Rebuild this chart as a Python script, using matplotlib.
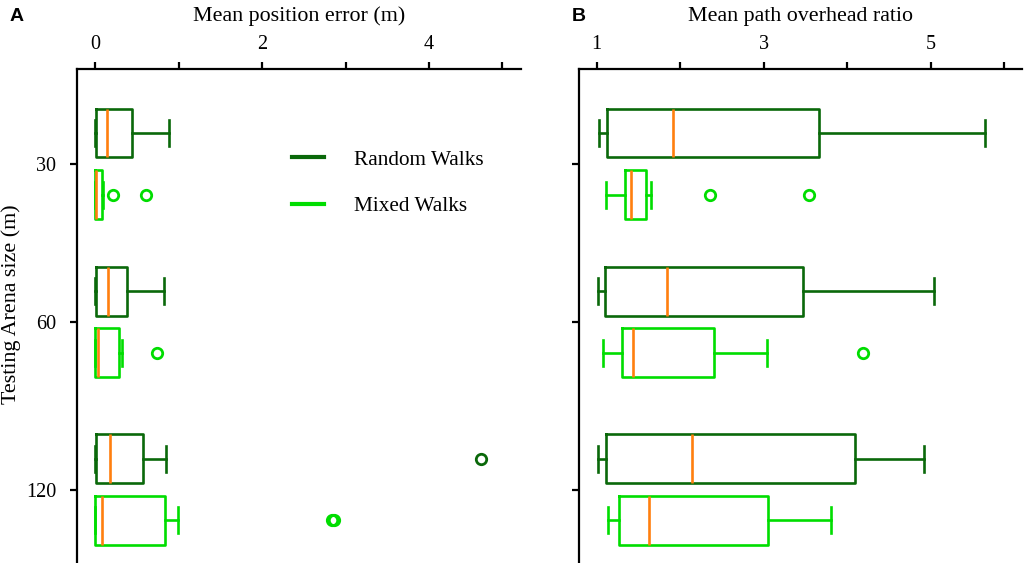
import matplotlib
matplotlib.use('Agg')
import matplotlib.pyplot as plt
from matplotlib.lines import Line2D

# ---------------- data ----------------
sizes = ['30', '60', '120']
series_names = ['Random Walks', 'Mixed Walks']

# Panel A: mean position error (m)
err_random_whislo = [0.00, 0.00, 0.00]
err_random_q1 = [0.01, 0.01, 0.01]
err_random_med = [0.14, 0.155, 0.18]
err_random_q3 = [0.44, 0.38, 0.575]
err_random_whishi = [0.88, 0.83, 0.85]
err_random_fliers = [[], [], [4.62]]

err_mixed_whislo = [0.00, 0.00, 0.00]
err_mixed_q1 = [0.00, 0.00, 0.00]
err_mixed_med = [0.01, 0.03, 0.08]
err_mixed_q3 = [0.08, 0.29, 0.835]
err_mixed_whishi = [0.09, 0.32, 0.99]
err_mixed_fliers = [[0.21, 0.61], [0.74], [2.84, 2.86]]

# Panel B: mean path overhead ratio
ratio_random_whislo = [1.03, 1.02, 1.02]
ratio_random_q1 = [1.12, 1.10, 1.11]
ratio_random_med = [1.91, 1.845, 2.14]
ratio_random_q3 = [3.66, 3.47, 4.09]
ratio_random_whishi = [5.65, 5.04, 4.92]
ratio_random_fliers = [[], [], []]

ratio_mixed_whislo = [1.115, 1.08, 1.13]
ratio_mixed_q1 = [1.34, 1.30, 1.27]
ratio_mixed_med = [1.41, 1.43, 1.62]
ratio_mixed_q3 = [1.59, 2.40, 3.05]
ratio_mixed_whishi = [1.645, 3.04, 3.80]
ratio_mixed_fliers = [[2.35, 3.54], [4.19], []]

# ---------------- style ----------------
plt.rcParams['font.family'] = ['Liberation Serif', 'DejaVu Serif']
DARK = '#0a680a'
LIGHT = '#00dd00'
ORANGE = '#ff7f0e'
LW = 1.9

group_pos = [1.0, 2.0, 3.06]
offset = 0.195
box_w = 0.308


def stats(whislo, q1, med, q3, whishi, fliers):
    return [dict(whislo=a, q1=b, med=c, q3=d, whishi=e, fliers=f)
            for a, b, c, d, e, f in zip(whislo, q1, med, q3, whishi, fliers)]


def draw(ax, st, pos, color):
    ax.bxp(st, positions=pos, widths=box_w, capwidths=0.165, vert=False,
           showfliers=True, manage_ticks=False,
           boxprops=dict(color=color, linewidth=LW),
           whiskerprops=dict(color=color, linewidth=LW),
           capprops=dict(color=color, linewidth=LW),
           medianprops=dict(color=ORANGE, linewidth=LW),
           flierprops=dict(marker='o', markerfacecolor='none',
                           markeredgecolor=color, markersize=7.5,
                           markeredgewidth=2.0, linestyle='none'))


fig = plt.figure(figsize=(10.24, 5.63), dpi=100)
axA = fig.add_axes([77 / 1024, 0.0, 444 / 1024, 494 / 563])
axB = fig.add_axes([579 / 1024, 0.0, 443 / 1024, 494 / 563])

pos_r = [p - offset for p in group_pos]
pos_m = [p + offset for p in group_pos]

draw(axA, stats(err_random_whislo, err_random_q1, err_random_med,
                err_random_q3, err_random_whishi, err_random_fliers), pos_r, DARK)
draw(axA, stats(err_mixed_whislo, err_mixed_q1, err_mixed_med,
                err_mixed_q3, err_mixed_whishi, err_mixed_fliers), pos_m, LIGHT)
draw(axB, stats(ratio_random_whislo, ratio_random_q1, ratio_random_med,
                ratio_random_q3, ratio_random_whishi, ratio_random_fliers), pos_r, DARK)
draw(axB, stats(ratio_mixed_whislo, ratio_mixed_q1, ratio_mixed_med,
                ratio_mixed_q3, ratio_mixed_whishi, ratio_mixed_fliers), pos_m, LIGHT)

axA.set_xlim(-0.216, 5.10)
axB.set_xlim(0.788, 6.09)
for ax in (axA, axB):
    ax.set_ylim(3.525, 0.399)
    ax.spines['right'].set_visible(False)
    ax.spines['bottom'].set_visible(False)
    ax.spines['left'].set_linewidth(1.6)
    ax.spines['top'].set_linewidth(1.6)
    ax.xaxis.set_ticks_position('top')
    ax.xaxis.set_label_position('top')
    ax.tick_params(axis='x', direction='out', length=5, width=1.6,
                   labelsize=14.5, pad=6)
    ax.tick_params(axis='y', direction='out', length=5, width=1.6,
                   labelsize=14.5, pad=10)
    ax.set_yticks(group_pos)

axA.set_xticks([0, 1, 2, 3, 4, 4.87])
axA.set_xticklabels(['0', '', '2', '', '4', ''])
axB.set_xticks([1, 2, 3, 4, 5, 5.87])
axB.set_xticklabels(['1', '', '3', '', '5', ''])

axA.set_yticklabels(sizes)
axB.set_yticklabels([])

axA.set_xlabel('Mean position error (m)', fontsize=15.8, labelpad=10)
axB.set_xlabel('Mean path overhead ratio', fontsize=15.8, labelpad=10)
axA.set_ylabel('Testing Arena size (m)', fontsize=15.8)
axA.yaxis.set_label_coords((21 - 77) / 444, (563 - 304) / 494)

fig.text(10 / 1024, 1 - 8 / 563, 'A', fontsize=14, fontweight='bold',
         family='Liberation Sans', ha='left', va='top')
fig.text(572 / 1024, 1 - 8 / 563, 'B', fontsize=14, fontweight='bold',
         family='Liberation Sans', ha='left', va='top')

handles = [Line2D([], [], color=DARK, linewidth=3),
           Line2D([], [], color=LIGHT, linewidth=3)]
axA.legend(handles, series_names, loc='upper left',
           bbox_to_anchor=((292 - 77) / 444, (563 - 150) / 494),
           frameon=False, fontsize=15.3, handlelength=1.5, handletextpad=1.4,
           labelspacing=1.25, borderpad=0, borderaxespad=0)

fig.savefig('out.png', dpi=100)
